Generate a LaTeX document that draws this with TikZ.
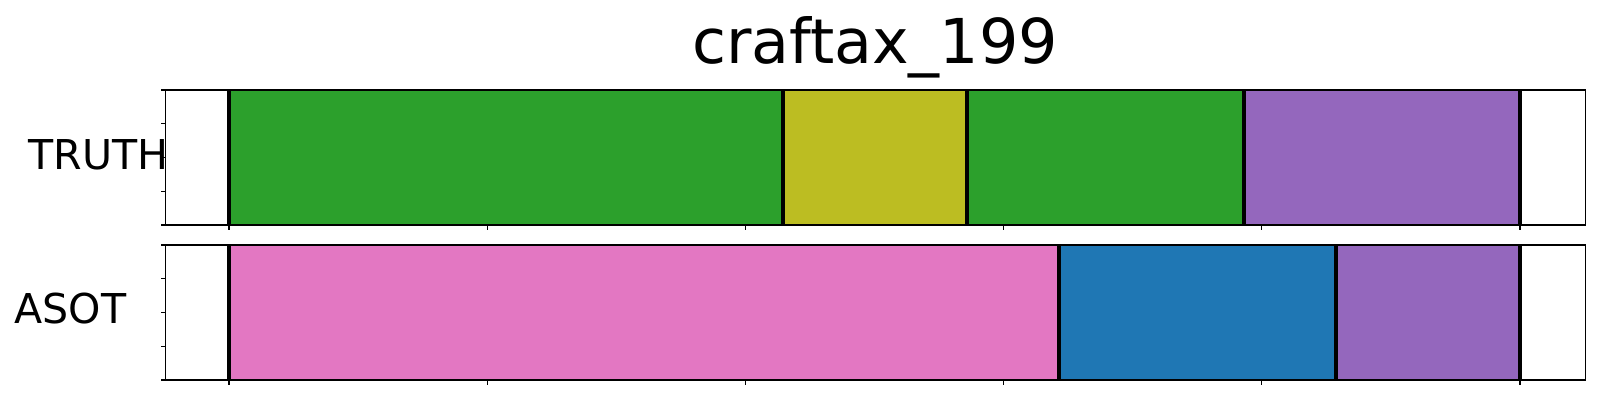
\documentclass[tikz,border=0pt]{standalone}
\usepackage{fontspec}
\setmainfont{DejaVu Sans}
\definecolor{tabgreen}{HTML}{2CA02C}
\definecolor{tabolive}{HTML}{BCBD22}
\definecolor{tabpurple}{HTML}{9467BD}
\definecolor{tabpink}{HTML}{E377C2}
\definecolor{tabblue}{HTML}{1F77B4}
\begin{document}
\begin{tikzpicture}[x=0.1mm,y=-0.1mm, bound/.style={line width=0.4mm}, spine/.style={line width=0.13mm}, label/.style={inner sep=0pt, font=\fontsize{11.7}{14}\selectfont}]
\useasboundingbox (0,0) rectangle (1600,400);
\node[anchor=base, inner sep=0pt, font=\fontsize{17.6}{21}\selectfont] (title) at (875,63) {craftax\_199};
% TRUTH row
\foreach \a/\b/\c in {229/783/tabgreen, 783/967/tabolive, 967/1244/tabgreen, 1244/1520/tabpurple}
    \fill[\c] (\a,90) rectangle (\b,225);
\foreach \x in {229,783,967,1244,1520}
    \draw[bound] (\x,90) -- (\x,225);
\draw[spine] (165.7,90) rectangle (1585.7,225);
\foreach \y in {90,123.75,157.5,191.25,225}
    \draw[spine] (165.7,\y) -- (160.7,\y);
\foreach \x in {229,487.2,745.4,1003.6,1261.8,1520}
    \draw[spine] (\x,225) -- (\x,230);
\node[label, anchor=base west] (truth) at (28,169) {TRUTH};
% ASOT row
\foreach \a/\b/\c in {229/1059/tabpink, 1059/1336/tabblue, 1336/1520/tabpurple}
    \fill[\c] (\a,245) rectangle (\b,380);
\foreach \x in {229,1059,1336,1520}
    \draw[bound] (\x,245) -- (\x,380);
\draw[spine] (165.7,245) rectangle (1585.7,380);
\foreach \y in {245,278.75,312.5,346.25,380}
    \draw[spine] (165.7,\y) -- (160.7,\y);
\foreach \x in {229,487.2,745.4,1003.6,1261.8,1520}
    \draw[spine] (\x,380) -- (\x,385);
\node[label, anchor=base west] (asot) at (14,323.3) {ASOT};
\end{tikzpicture}
\end{document}
